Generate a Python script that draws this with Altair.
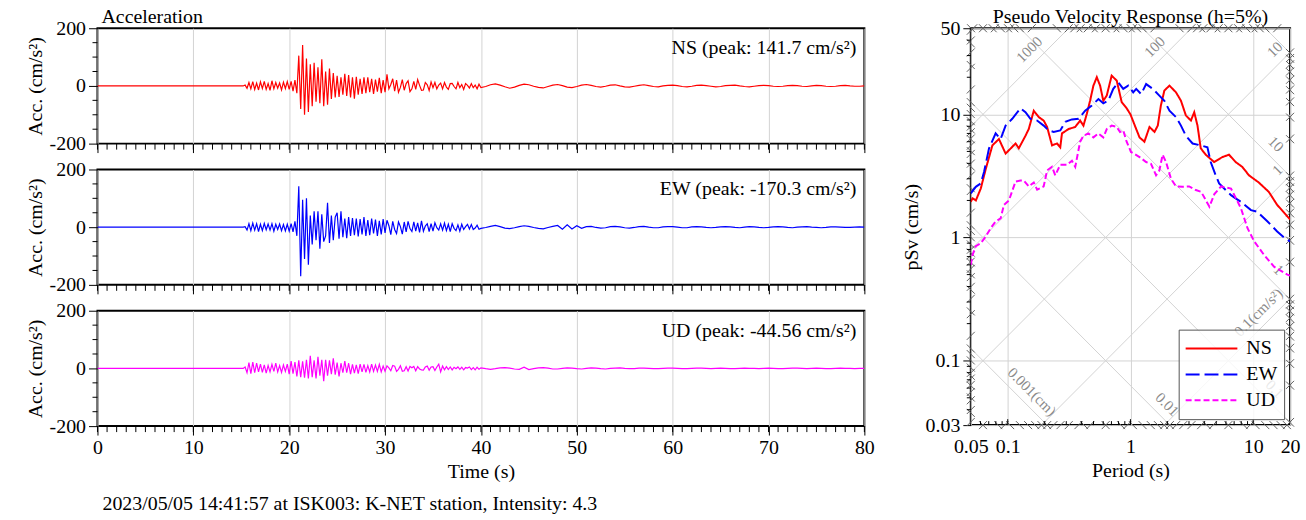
import math
import altair as alt
import pandas as pd

FONT = "Liberation Serif"
GRID = "#d3d3d3"
W_L, H_L = 771, 116
W_R, H_R = 321, 399

# ---------------- acceleration records ----------------
# samples: 0 s, then every 0.2 s from 15.0 s to 39.8 s, then every 0.5 s from 40 s to 80 s
DENSE_T0, DENSE_DT, N_DENSE = 15.0, 0.2, 125
SPARSE_T0, SPARSE_DT, N_SPARSE = 40.0, 0.5, 81
TIME = ([0.0]
        + [round(DENSE_T0 + DENSE_DT * i, 2) for i in range(N_DENSE)]
        + [round(SPARSE_T0 + SPARSE_DT * i, 2) for i in range(N_SPARSE)])

NS_DENSE = [
    0, 0, 3, -8, 12,
    -10, 15, -12, 10, -14,
    14, -9, 16, -12, 8,
    -15, 18, -10, 12, -8,
    10, -14, 13, -9, 15,
    -12, 16, -18, 20, -25,
    105, -80, 141.7, -100, 95,
    -90, 75, -70, 80, -55,
    65, -60, 92, -70, 50,
    -65, 60, -45, 45, -40,
    35, -38, 30, -30, 42,
    -35, 38, -40, 30, -44,
    32, -30, 25, -28, 30,
    -25, 30, -22, 25, -28,
    22, -20, 28, -25, 20,
    -22, 40, -10, 5, 25,
    -18, 20, -22, -5, 22,
    -15, 8, 18, -20, -10,
    16, -12, 22, 2, -15,
    -14, 12, 4, -16, 14,
    -6, 12, -10, 3, 10,
    -10, 12, -4, -12, 8,
    9, -2, -10, 12, -6,
    5, -12, 8, 2, -7,
    8, -6, 3, -10, 6,
]
NS_SPARSE = [
    -6, -2, 4, 7, 3, -3, -8, -4, 2, 6, 4, -1, -5, -7, -2, 3, 5, 1, -4, -6,
    -2, 3, 5, 2, -2, -4, -1, 3, 4, 0, -3, -4, -1, 2, 4, 1, -2, -3, 0, 2,
    3, 1, -2, -3, -1, 2, 3, 1, -1, -3, -2, 1, 2, 3, 0, -2, -3, -1, 1, 2,
    1, -1, -2, -1, 1, 2, 1, -1, -2, 0, 2, 1, -1, -2, -1, 1, 2, 0, -1, -1,
    0,
]
EW_DENSE = [
    0, 0, 2, -10, 12,
    -12, 14, -10, 12, -15,
    10, -12, 13, -9, 11,
    -10, 12, -14, 10, -8,
    11, -12, 9, -13, 10,
    -14, 12, -16, 20, -30,
    142, -170.3, 95, -110, 100,
    -130, 40, -60, 55, -45,
    55, -75, 45, -50, -30,
    85, -55, 40, -45, 35,
    50, -40, 55, -35, 30,
    -38, 35, -30, 32, -28,
    30, -32, 28, -25, 35,
    -30, 25, -28, 30, -22,
    26, -30, 22, -25, 28,
    -20, 24, 5, -26, 20,
    -8, -22, 18, 2, -24,
    18, -16, 20, -5, -15,
    18, -14, 15, -18, 22,
    -14, 4, 12, -15, 12,
    -14, 15, -2, -10, 12,
    -10, 14, -12, 10, -15,
    12, -4, -12, 8, -14,
    10, -8, 2, 10, -6,
    9, -8, -3, 7, -7,
]
EW_SPARSE = [
    -4, -1, 3, 6, 2, -3, -5, -2, 2, 5, 3, -1, -4, -6, -1, 3, 6, -7, 8, -6,
    5, -4, 2, 3, -1, -3, -2, 2, 3, 1, -2, -3, -1, 2, 3, 0, -2, -2, 1, 2,
    2, 0, -2, -2, 1, 2, 1, -1, -2, -1, 1, 2, 1, -1, -2, 0, 2, 1, -1, -2,
    -1, 1, 2, 1, -1, -2, 0, 1, 2, 0, -1, -2, -1, 1, 1, 0, -1, -1, 0, 1,
    0,
]
UD_DENSE = [
    0, 0, 5, -15, 20,
    -18, 22, -15, 18, -12,
    15, -14, 12, -16, 10,
    -12, 14, -10, 18, -12,
    10, -14, 12, -10, 15,
    -20, 25, -18, 22, -28,
    28, -30, 25, -32, 30,
    -35, 44, -30, 28, -35,
    40, -25, 30, -44.56, 30,
    -25, 28, -20, 35, -22,
    20, -28, 18, -15, 25,
    -15, 18, -20, 14, -16,
    12, -18, 15, -12, 14,
    -14, 10, -12, 15, -10,
    12, -10, 14, -12, 8,
    -10, 9, 2, -8, 10,
    8, -10, -3, 9, -10,
    -8, 6, -9, 7, 2,
    7, -8, 6, -2, -5,
    -6, 5, 8, -6, 5,
    6, -7, 5, 15, -12,
    8, -5, 6, -4, 5,
    -5, 4, -1, 5, -3,
    4, -5, 3, 1, 5,
    -4, 3, -5, 4, -3,
]
UD_SPARSE = [
    2, -1, -3, -1, 2, 3, 1, -2, -3, 4, -4, -1, 2, 3, 1, -2, -2, 0, 2, 1,
    -1, -2, 0, 2, 1, -1, -2, 0, 1, 2, 0, -1, -1, 1, 1, 0, -1, -1, 0, 1,
    1, 0, -1, -1, 0, 1, 1, 0, -1, 0, 1, 0, -1, -1, 0, 1, 0, 0, -1, 0,
    1, 0, -1, -1, 0, 1, 1, 0, -1, 0, 1, 0, -1, -1, 0, 1, 0, 0, -1, 0,
    0,
]

PANELS = [
    ("NS", NS_DENSE, NS_SPARSE, "#ff0000", "NS (peak: 141.7 cm/s²)"),
    ("EW", EW_DENSE, EW_SPARSE, "#0000ff", "EW (peak: -170.3 cm/s²)"),
    ("UD", UD_DENSE, UD_SPARSE, "#ff00ff", "UD (peak: -44.56 cm/s²)"),
]
X_MAJOR = list(range(0, 81, 10))
X_MINOR = list(range(0, 81, 1))
Y_MAJOR = [-200, 0, 200]
Y_MINOR = [-150, -100, -50, 50, 100, 150]
FOOTER = "2023/05/05 14:41:57 at ISK003: K-NET station, Intensity: 4.3"

# ---------------- response spectra ----------------
NS_T = [0.05, 0.0516, 0.055, 0.0603, 0.0662, 0.075, 0.0848, 0.0961, 0.1158, 0.1231, 0.1395, 0.1484,
        0.163, 0.1789, 0.1963, 0.2093, 0.2296, 0.2521, 0.268, 0.2767, 0.313, 0.355, 0.389, 0.414,
        0.441, 0.469, 0.499, 0.532, 0.566, 0.601, 0.641, 0.703, 0.773, 0.848, 0.931, 1.0, 1.114,
        1.186, 1.30, 1.43, 1.57, 1.67, 1.77, 1.89, 2.08, 2.35, 2.58, 2.83, 3.11, 3.31, 3.52, 3.74,
        4.11, 4.81, 5.61, 6.36, 7.2, 8.15, 9.24, 11.1, 13.4, 15.7, 20.0]
NS_SV = [1.95, 2.08, 2.0, 2.5, 3.6, 5.6, 6.3, 4.8, 5.8, 5.3, 6.7, 7.6, 10.7, 9.5, 8.9, 7.9, 5.6, 5.8,
         5.4, 7.0, 7.6, 7.9, 8.9, 8.1, 10.1, 12.9, 17.1, 20.0, 17.1, 12.9, 14.2, 20.6, 18.8, 12.6,
         11.2, 10.0, 7.6, 6.5, 6.0, 7.9, 7.2, 8.1, 11.8, 15.6, 17.1, 15.1, 12.9, 9.8, 8.9, 10.4, 8.1,
         5.3, 4.7, 4.1, 4.5, 4.7, 4.1, 3.75, 3.2, 2.8, 2.35, 1.84, 1.4]
EW_T = [0.05, 0.0549, 0.0603, 0.0641, 0.0704, 0.0797, 0.0875, 0.0961, 0.1088, 0.127, 0.1395, 0.1532,
        0.1736, 0.1963, 0.2156, 0.2366, 0.268, 0.2944, 0.3335, 0.3772, 0.4276, 0.4843, 0.5484, 0.601,
        0.660, 0.7244, 0.796, 0.8736, 0.959, 1.053, 1.114, 1.222, 1.342, 1.52, 1.72, 1.89, 2.08, 2.35,
        2.58, 2.83, 3.21, 3.74, 4.24, 4.51, 4.95, 5.28, 5.97, 6.6, 7.2, 7.95, 9.6, 10.8, 13.1, 15.7,
        18.4, 20.0]
EW_SV = [2.28, 2.58, 2.75, 3.4, 5.3, 7.0, 6.3, 8.1, 9.2, 11.2, 10.4, 9.2, 8.9, 8.1, 7.4, 7.2, 7.4, 8.7,
         9.1, 9.2, 10.7, 11.8, 13.3, 12.3, 12.9, 16.1, 18.2, 16.1, 17.1, 15.1, 16.1, 14.6, 17.6, 16.1,
         14.2, 12.9, 10.7, 9.5, 8.1, 6.7, 5.8, 5.6, 5.4, 4.1, 3.2, 2.75, 2.43, 2.21, 2.08, 1.95, 1.67,
         1.62, 1.35, 1.12, 0.975, 0.93]
UD_T = [0.05, 0.0516, 0.0549, 0.0603, 0.0662, 0.0726, 0.0797, 0.0875, 0.0931, 0.1022, 0.1158, 0.127,
        0.1352, 0.1484, 0.163, 0.1736, 0.1963, 0.2093, 0.2296, 0.244, 0.268, 0.304, 0.3335, 0.355,
        0.389, 0.414, 0.455, 0.499, 0.548, 0.601, 0.641, 0.703, 0.773, 0.822, 0.874, 0.931, 1.01,
        1.186, 1.342, 1.47, 1.617, 1.72, 1.83, 1.95, 2.14, 2.35, 2.66, 3.01, 3.41, 3.77, 4.40, 4.83,
        5.48, 6.6, 7.95, 9.0, 10.2, 12.3, 14.8, 19.0, 20.0]
UD_SV = [0.60, 0.72, 0.85, 0.90, 1.02, 1.19, 1.35, 1.43, 1.84, 2.0, 2.85, 2.9, 2.9, 2.6, 2.8, 2.45, 2.6,
         3.5, 3.75, 3.2, 3.9, 3.9, 4.2, 3.75, 6.0, 6.7, 7.0, 6.5, 7.0, 6.5, 7.6, 8.1, 7.9, 7.2, 7.4,
         6.0, 4.95, 4.5, 4.1, 3.97, 3.2, 3.5, 4.7, 4.1, 3.0, 2.6, 2.58, 2.6, 2.43, 2.35, 1.78, 2.25,
         2.6, 2.5, 1.73, 1.19, 0.93, 0.72, 0.58, 0.50, 0.49]
SERIES = ["NS", "EW", "UD"]
COLORS = ["#ff0000", "#0000ff", "#ff00ff"]
DASHES = [[1, 0], [14, 5], [6, 3]]

TMIN, TMAX = 0.05, 20.0
SMIN, SMAX = 0.03, 50.0
X_R_LABELS = [0.05, 0.1, 1, 10, 20]
Y_R_LABELS = [0.03, 0.1, 1, 10, 50]
X_R_MAJOR_IN = [0.1, 1, 10]
X_R_MINOR_IN = [0.06, 0.07, 0.08, 0.09, 0.2, 0.3, 0.4, 0.5, 0.6, 0.7, 0.8, 0.9,
                2, 3, 4, 5, 6, 7, 8, 9]
Y_R_MINOR = [0.04, 0.05, 0.06, 0.07, 0.08, 0.09, 0.2, 0.3, 0.4, 0.5, 0.6, 0.7, 0.8, 0.9,
             2, 3, 4, 5, 6, 7, 8, 9, 20, 30, 40]
SA_LINES = [0.01, 0.1, 1, 10, 100, 1000, 10000]          # cm/s^2
D_LINES = [0.0001, 0.001, 0.01, 0.1, 1, 10, 100]         # cm
SA_LAB_VALUES = [0.1, 1, 10, 100, 1000]
SA_LAB_TEXT = ["0.1(cm/s²)", "1", "10", "100", "1000"]
D_LAB_VALUES = [0.001, 0.01, 0.1, 1, 10]
D_LAB_TEXT = ["0.001(cm)", "0.01", "0.1", "1", "10"]

TWO_PI = 2 * math.pi
PX_X = W_R / math.log10(TMAX / TMIN)
PX_Y = H_R / math.log10(SMAX / SMIN)


def sa_seg(sa):
    lo = max(TMIN, TWO_PI * SMIN / sa)
    hi = min(TMAX, TWO_PI * SMAX / sa)
    if lo >= hi:
        return None
    return (lo, sa * lo / TWO_PI), (hi, sa * hi / TWO_PI)


def d_seg(d):
    lo = max(TMIN, TWO_PI * d / SMAX)
    hi = min(TMAX, TWO_PI * d / SMIN)
    if lo >= hi:
        return None
    return (lo, TWO_PI * d / lo), (hi, TWO_PI * d / hi)


grid_rows = []
for sa in SA_LINES:
    s = sa_seg(sa)
    if s:
        grid_rows.append({"T": s[0][0], "Sv": s[0][1], "T2": s[1][0], "Sv2": s[1][1]})
for d in D_LINES:
    s = d_seg(d)
    if s:
        grid_rows.append({"T": s[0][0], "Sv": s[0][1], "T2": s[1][0], "Sv2": s[1][1]})

f = 10 ** (4.0 / PX_X)
tick_rows = []
for n in range(-3, 5):
    for k in range(1, 10):
        s = sa_seg(k * 10.0 ** n)
        if s:
            for (t, v) in s:
                tick_rows.append({"T": t / f, "Sv": v / f, "T2": t * f, "Sv2": v * f})
for n in range(-5, 3):
    for k in range(1, 10):
        s = d_seg(k * 10.0 ** n)
        if s:
            for (t, v) in s:
                tick_rows.append({"T": t / f, "Sv": v * f, "T2": t * f, "Sv2": v / f})

sa_lab_rows = []
smax_l = SMAX / 10 ** (20.0 / PX_Y)
tmax_l = TMAX / 10 ** (1.0 / PX_X)
for sa, txt in zip(SA_LAB_VALUES, SA_LAB_TEXT):
    t = min(tmax_l, TWO_PI * smax_l / sa)
    sa_lab_rows.append({"T": t, "Sv": sa * t / TWO_PI, "label": txt})
d_lab_rows = []
tmax_d = TMAX / 10 ** (18.0 / PX_X)
smin_d = SMIN * 10 ** (2.5 / PX_Y)
for d, txt in zip(D_LAB_VALUES, D_LAB_TEXT):
    t = min(tmax_d, TWO_PI * d / smin_d)
    d_lab_rows.append({"T": t, "Sv": TWO_PI * d / t, "label": txt})


# ---------------- left panels ----------------
def accel_panel(dense, sparse, color, label, first, last):
    df = pd.DataFrame({"t": TIME, "a": [0.0] + list(dense) + list(sparse)})
    xenc = alt.X("t:Q", scale=alt.Scale(domain=[0, 80], nice=False, zero=False),
                 axis=alt.Axis(values=X_MAJOR, tickSize=9, labels=last, grid=True,
                               gridColor=GRID, labelPadding=3, titlePadding=4, labelFlush=False,
                               labelExpr="'' + datum.value"),
                 title="Time (s)" if last else None)
    yenc = alt.Y("a:Q", scale=alt.Scale(domain=[-200, 200], nice=False, zero=False),
                 axis=alt.Axis(values=Y_MAJOR, tickSize=9, grid=False, labelPadding=3,
                               titlePadding=4, labelFlush=False, labelExpr="'' + datum.value"),
                 title="Acc. (cm/s²)")
    line = alt.Chart(df).mark_line(color=color, strokeWidth=1.2, clip=True).encode(x=xenc, y=yenc)
    xminor = alt.Chart(pd.DataFrame({"t": X_MINOR})).mark_rule(color="black", strokeWidth=1).encode(
        x=xenc, y=alt.value(H_L), y2=alt.value(H_L + 6))
    yminor = alt.Chart(pd.DataFrame({"a": Y_MINOR})).mark_rule(color="black", strokeWidth=1).encode(
        y=yenc, x=alt.value(-5), x2=alt.value(0))
    txt = alt.Chart(pd.DataFrame({"k": [label]})).mark_text(
        align="right", baseline="alphabetic", font=FONT, fontSize=20, color="black").encode(
        x=alt.value(W_L - 8), y=alt.value(26), text="k:N")
    ch = alt.layer(line, xminor, yminor, txt).properties(width=W_L, height=H_L)
    if first:
        ch = ch.properties(title=alt.TitleParams("Acceleration", anchor="start", frame="group",
                                                 offset=-9, dx=4))
    if last:
        ch = ch.properties(title=alt.TitleParams(FOOTER, orient="bottom", anchor="start",
                                                 frame="group", offset=12, dx=5))
    return ch


left = alt.vconcat(
    *[accel_panel(d, s, c, lab, i == 0, i == 2) for i, (_, d, s, c, lab) in enumerate(PANELS)],
    spacing=26, bounds="flush")

# ---------------- right panel ----------------
XR = alt.X("T:Q", scale=alt.Scale(type="log", domain=[TMIN, TMAX], nice=False),
           axis=alt.Axis(values=X_R_LABELS, ticks=False, labelPadding=12, grid=True,
                         gridColor=GRID, titlePadding=4, labelOverlap=False, labelFlush=False,
                         labelExpr="'' + datum.value"),
           title="Period (s)")
YR = alt.Y("Sv:Q", scale=alt.Scale(type="log", domain=[SMIN, SMAX], nice=False),
           axis=alt.Axis(values=Y_R_LABELS, tickSize=8, labelPadding=3, grid=True,
                         gridColor=GRID, titlePadding=4, labelOverlap=False, labelFlush=False,
                         labelExpr="'' + datum.value"),
           title="pSv (cm/s)")

diag = alt.Chart(pd.DataFrame(grid_rows)).mark_rule(color=GRID, strokeWidth=1, clip=True).encode(
    x=XR, y=YR, x2="T2:Q", y2="Sv2:Q")
edge_ticks = alt.Chart(pd.DataFrame(tick_rows)).mark_rule(color="#606060", strokeWidth=1).encode(
    x=XR, y=YR, x2="T2:Q", y2="Sv2:Q")
sa_labels = alt.Chart(pd.DataFrame(sa_lab_rows)).mark_text(
    angle=315, align="right", baseline="alphabetic", dy=-8, font=FONT, fontSize=15,
    color="#8a8a8a").encode(x=XR, y=YR, text="label:N")
d_labels = alt.Chart(pd.DataFrame(d_lab_rows)).mark_text(
    angle=45, align="right", baseline="alphabetic", dy=-8, font=FONT, fontSize=15,
    color="#8a8a8a").encode(x=XR, y=YR, text="label:N")
y_minor_r = alt.Chart(pd.DataFrame({"Sv": Y_R_MINOR})).mark_rule(color="black").encode(
    y=YR, x=alt.value(0), x2=alt.value(-4))
x_major_in = alt.Chart(pd.DataFrame({"T": X_R_MAJOR_IN})).mark_rule(color="black").encode(
    x=XR, y=alt.value(H_R), y2=alt.value(H_R - 6))
x_minor_in = alt.Chart(pd.DataFrame({"T": X_R_MINOR_IN})).mark_rule(color="black").encode(
    x=XR, y=alt.value(H_R), y2=alt.value(H_R - 4))

spec_df = pd.concat([
    pd.DataFrame({"T": NS_T, "Sv": NS_SV, "series": "NS"}),
    pd.DataFrame({"T": EW_T, "Sv": EW_SV, "series": "EW"}),
    pd.DataFrame({"T": UD_T, "Sv": UD_SV, "series": "UD"}),
], ignore_index=True)
leg = alt.Legend(title=None, orient="bottom-right", offset=6)
curves = alt.Chart(spec_df).mark_line(strokeWidth=2, clip=True).encode(
    x=XR, y=YR,
    color=alt.Color("series:N", scale=alt.Scale(domain=SERIES, range=COLORS), legend=leg),
    strokeDash=alt.StrokeDash("series:N", scale=alt.Scale(domain=SERIES, range=DASHES), legend=leg),
    order=alt.Order("T:Q"),
)

right = alt.layer(diag, edge_ticks, sa_labels, d_labels, y_minor_r, x_major_in, x_minor_in,
                  curves).properties(
    width=W_R, height=H_R,
    title=alt.TitleParams("Pseudo Velocity Response (h=5%)", anchor="middle", offset=-9))

chart = alt.hconcat(left, right, spacing=25).resolve_legend(
    color="independent", strokeDash="independent"
).properties(
    padding={"left": 24, "top": 5, "right": 5, "bottom": 5}
).configure_view(
    stroke="black", strokeWidth=2
).configure_axis(
    domain=False, labelFont=FONT, labelFontSize=20, titleFont=FONT, titleFontSize=20,
    titleFontWeight="normal", labelColor="black", titleColor="black", tickColor="black",
    tickWidth=1
).configure_title(
    font=FONT, fontSize=20, fontWeight="normal", color="black"
).configure_legend(
    labelFont=FONT, labelFontSize=20, labelColor="black", symbolType="stroke",
    symbolSize=2704, symbolStrokeWidth=2, clipHeight=26, padding=6, rowPadding=0,
    labelOffset=8, strokeColor="#555555", fillColor="rgba(255,255,255,0.8)", cornerRadius=0
)

chart.save("out.html", embed_options={"renderer": "svg", "actions": False})
